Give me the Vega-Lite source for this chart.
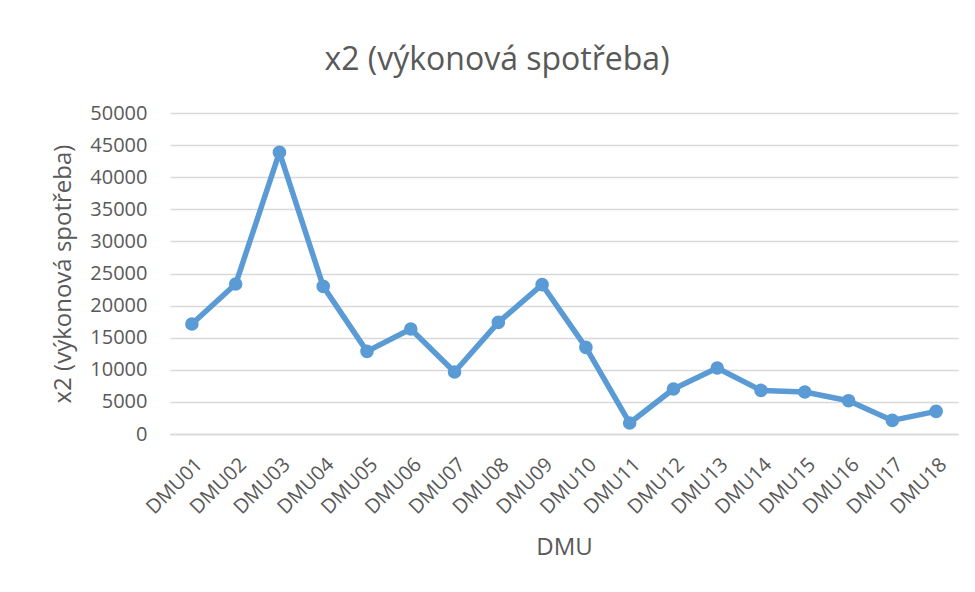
{
  "$schema": "https://vega.github.io/schema/vega-lite/v6.json",
  "width": 788,
  "height": 321,
  "autosize": {"type": "none"},
  "padding": {"left": 170, "top": 113, "right": 17, "bottom": 158},
  "background": "white",
  "title": {
    "text": "x2 (výkonová spotřeba)",
    "font": "Open Sans",
    "fontSize": 32,
    "fontWeight": "normal",
    "color": "#595959",
    "anchor": "middle",
    "dx": -67,
    "offset": 26
  },
  "config": {
    "view": {"stroke": null},
    "axis": {"labelFont": "Open Sans", "titleFont": "Open Sans", "labelColor": "#595959", "titleColor": "#595959", "titleFontWeight": "normal"}
  },
  "data": {
    "values": [
      {"DMU": "DMU01", "x2": 17130},
      {"DMU": "DMU02", "x2": 23360},
      {"DMU": "DMU03", "x2": 43860},
      {"DMU": "DMU04", "x2": 22990},
      {"DMU": "DMU05", "x2": 12870},
      {"DMU": "DMU06", "x2": 16360},
      {"DMU": "DMU07", "x2": 9660},
      {"DMU": "DMU08", "x2": 17380},
      {"DMU": "DMU09", "x2": 23260},
      {"DMU": "DMU10", "x2": 13490},
      {"DMU": "DMU11", "x2": 1710},
      {"DMU": "DMU12", "x2": 7010},
      {"DMU": "DMU13", "x2": 10280},
      {"DMU": "DMU14", "x2": 6790},
      {"DMU": "DMU15", "x2": 6540},
      {"DMU": "DMU16", "x2": 5190},
      {"DMU": "DMU17", "x2": 2120},
      {"DMU": "DMU18", "x2": 3520}
    ]
  },
  "encoding": {
    "x": {
      "field": "DMU",
      "type": "ordinal",
      "scale": {"type": "point", "padding": 0.5},
      "axis": {
        "title": "DMU",
        "titleFontSize": 24,
        "titlePadding": 18,
        "labelAngle": -45,
        "labelAlign": "right",
        "labelBaseline": "top",
        "labelFontSize": 20,
        "labelPadding": 20,
        "ticks": false,
        "domain": true,
        "domainColor": "#D9D9D9",
        "domainWidth": 1.5,
        "grid": false
      }
    },
    "y": {
      "field": "x2",
      "type": "quantitative",
      "scale": {"domain": [0, 50000], "nice": false},
      "axis": {
        "title": "x2 (výkonová spotřeba)",
        "titleFontSize": 24,
        "titlePadding": 14,
        "format": "d",
        "values": [0, 5000, 10000, 15000, 20000, 25000, 30000, 35000, 40000, 45000, 50000],
        "labelFontSize": 20,
        "labelPadding": 23,
        "ticks": false,
        "domain": false,
        "grid": true,
        "gridColor": "#D9D9D9",
        "gridWidth": 1.5
      }
    }
  },
  "layer": [
    {"mark": {"type": "line", "color": "#5B9BD5", "strokeWidth": 5.5, "strokeJoin": "round"}},
    {"mark": {"type": "point", "filled": true, "opacity": 1, "color": "#5B9BD5", "size": 185}}
  ]
}
